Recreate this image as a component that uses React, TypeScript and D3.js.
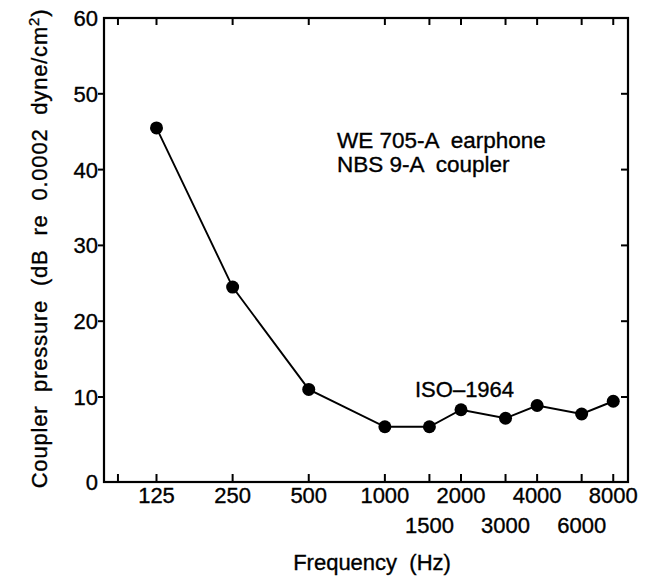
import React from 'react';
import { scaleLog, scaleLinear, line } from 'd3';

// coupler pressure for threshold, ISO-1964 reference (WE 705-A / NBS 9-A)
const frequencies = [125, 250, 500, 1000, 1500, 2000, 3000, 4000, 6000, 8000];
const pressures = [45.5, 24.5, 11, 6.5, 6.5, 8.5, 7.5, 9, 8, 9.5];

const upperRowLabels = [125, 250, 500, 1000, 2000, 4000, 8000];
const lowerRowLabels = [1500, 3000, 6000];
const extraTicks = [88];
const yTicks = [0, 10, 20, 30, 40, 50, 60];
const innerYTicks = [10, 20, 30, 40, 50];

const W = 652;
const H = 576;
const left = 104;
const right = 628;
const top = 18;
const bottom = 482;
const font = 'Liberation Sans, Arial, sans-serif';
const fs = 22;

const txt = { fontFamily: font, fontSize: fs, stroke: '#000', strokeWidth: 0.35 };

export default function App() {
  const x = scaleLog().domain([77.5, 9150]).range([left, right]);
  // the scanned axis is a little stretched between 0 and 10
  const y = scaleLinear().domain([0, 10, 60]).range([bottom, 397, top]);

  const pts = frequencies.map((f, i) => ({ f, v: pressures[i] }));
  const path = line<{ f: number; v: number }>()
    .x(d => x(d.f))
    .y(d => y(d.v))(pts);

  const xTicks = [...extraTicks, ...frequencies];

  return (
    <svg
      width={W}
      height={H}
      style={{ position: 'absolute', left: 0, top: 0, background: '#fff' }}
    >
      {/* frame */}
      <rect
        x={left}
        y={top}
        width={right - left}
        height={bottom - top}
        fill="none"
        stroke="#000"
        strokeWidth={2.2}
      />

      {/* x ticks, bottom and top, pointing inward */}
      {xTicks.map(f => (
        <g key={'xt' + f}>
          <line x1={x(f)} x2={x(f)} y1={bottom} y2={bottom - 8} stroke="#000" strokeWidth={2} />
          <line x1={x(f)} x2={x(f)} y1={top} y2={top + 7} stroke="#000" strokeWidth={2} />
        </g>
      ))}

      {/* y ticks: outward on the left, inward on the right */}
      {innerYTicks.map(v => (
        <g key={'yt' + v}>
          <line x1={left - 6} x2={left} y1={y(v)} y2={y(v)} stroke="#000" strokeWidth={2} />
          <line x1={right - 7} x2={right} y1={y(v)} y2={y(v)} stroke="#000" strokeWidth={2} />
        </g>
      ))}

      {/* y tick labels */}
      {yTicks.map(v => (
        <text key={'yl' + v} x={left - 6} y={y(v)} dy="0.36em" textAnchor="end" {...txt}>
          {v}
        </text>
      ))}

      {/* x tick labels, two rows */}
      {upperRowLabels.map(f => (
        <text key={'xl' + f} x={x(f)} y={503} textAnchor="middle" {...txt}>
          {f}
        </text>
      ))}
      {lowerRowLabels.map(f => (
        <text key={'xl2' + f} x={x(f)} y={533} textAnchor="middle" {...txt}>
          {f}
        </text>
      ))}

      {/* data */}
      <path d={path || ''} fill="none" stroke="#000" strokeWidth={1.9} />
      {pts.map(d => (
        <circle key={'p' + d.f} cx={x(d.f)} cy={y(d.v)} r={6.5} fill="#000" />
      ))}

      {/* annotations */}
      <text x={337} y={148} {...txt} fontSize={22.5} xmlSpace="preserve">
        WE 705-A  earphone
      </text>
      <text x={337} y={172} {...txt} fontSize={22.5} xmlSpace="preserve">
        NBS 9-A  coupler
      </text>
      <text x={415} y={397} {...txt}>
        ISO–1964
      </text>

      {/* axis titles */}
      <text x={372} y={570} textAnchor="middle" {...txt} xmlSpace="preserve">
        Frequency  (Hz)
      </text>
      <text
        transform={`translate(47, ${(10 + 487) / 2}) rotate(-90)`}
        textAnchor="middle"
        {...txt}
        letterSpacing={0.8}
        xmlSpace="preserve"
      >
        Coupler  pressure  (dB  re  0.0002  dyne/cm
        <tspan dy={-8} fontSize={15}>2</tspan>
        <tspan dy={8}>)</tspan>
      </text>
    </svg>
  );
}
